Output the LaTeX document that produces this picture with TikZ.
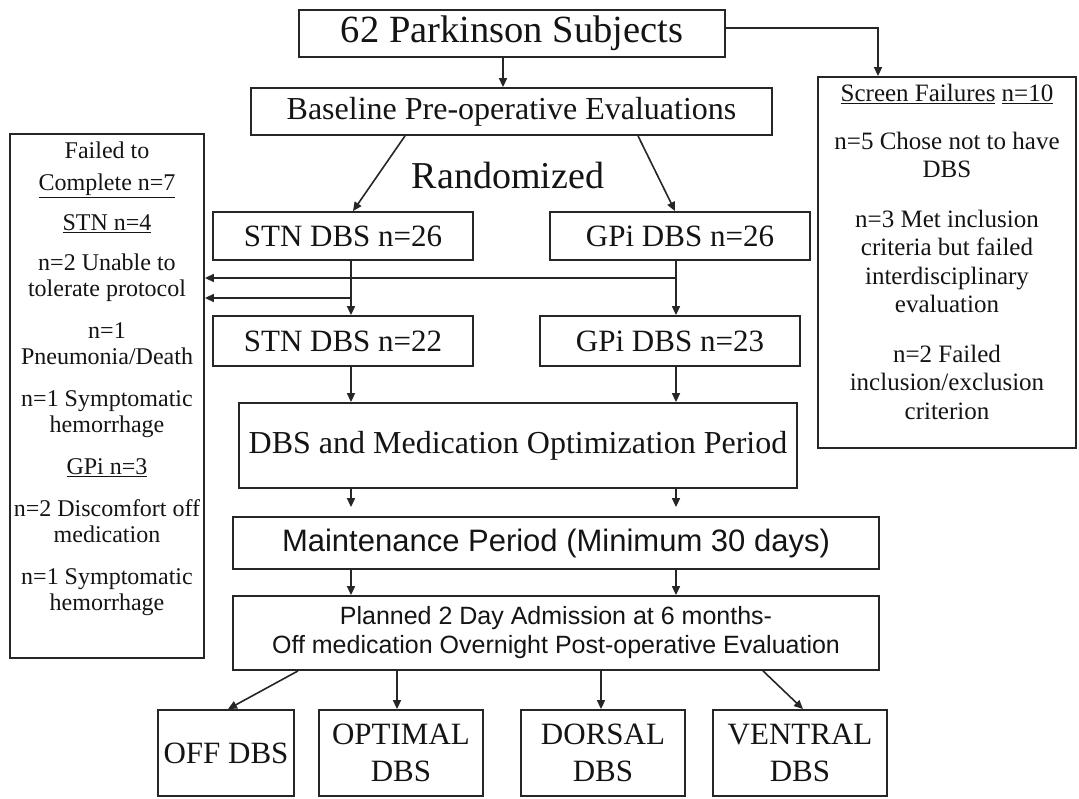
\documentclass[tikz,border=0pt]{standalone}
\usepackage{fontspec}
\setmainfont{Liberation Serif}
\newfontfamily\arialf{Liberation Sans}
\usetikzlibrary{arrows.meta,calc}
\newcommand\fsz[2]{\fontsize{#1}{#2}\selectfont}
\begin{document}
\begin{tikzpicture}[x=1pt,y=-1pt,
  box/.style={draw=black!85, line width=1.8pt, inner sep=0pt, align=center, text=black!92},
  arr/.style={draw=black!85, line width=1.6pt, -{Triangle[length=9pt,width=8pt]}},
  txt/.style={inner sep=0pt, align=center, text=black!92}]
\useasboundingbox (0,0) rectangle (1079,798);

% boxes
\node[box, minimum width=426pt, minimum height=47pt, font=\fsz{38.5}{44}] (top) at (512,33.5) {62 Parkinson Subjects};
\node[box, minimum width=521pt, minimum height=47pt, font=\fsz{32}{38}] (base) at (511.5,111.5) {Baseline Pre-operative Evaluations};
\node[txt, anchor=base, font=\fsz{38}{44}] (rand) at (508,188) {Randomized};

\node[box, minimum width=258pt, minimum height=371pt] (screen) at (947,262.5) {};
\node[txt, anchor=north, font=\fsz{25}{28.5}] (screentxt) at (947,84)
 {\underline{Screen Failures} \underline{n=10}\\[19pt]
  n=5 Chose not to have\\DBS\\[21pt]
  n=3 Met inclusion\\criteria but failed\\interdisciplinary\\evaluation\\[21pt]
  n=2 Failed\\inclusion/exclusion\\criterion};

\node[box, minimum width=194pt, minimum height=524pt] (fail) at (107,396) {};
\node[txt, anchor=north, font=\fsz{24}{26}] (failtxt) at (107,142)
 {Failed to\\[6pt]\underline{Complete n=7}\\[14pt]
  \underline{STN n=4}\\[14pt]
  n=2 Unable to\\tolerate protocol\\[16pt]
  n=1\\Pneumonia/Death\\[16pt]
  n=1 Symptomatic\\hemorrhage\\[16pt]
  \underline{GPi n=3}\\[16pt]
  n=2 Discomfort off\\medication\\[16pt]
  n=1 Symptomatic\\hemorrhage};

\node[box, minimum width=260pt, minimum height=48pt, font=\fsz{31}{36}] (stn1) at (343,236) {STN DBS n=26};
\node[box, minimum width=260pt, minimum height=48pt, font=\fsz{31}{36}] (gpi1) at (680,236) {GPi DBS n=26};
\node[box, minimum width=260pt, minimum height=50pt, font=\fsz{31}{36}] (stn2) at (343,341) {STN DBS n=22};
\node[box, minimum width=260pt, minimum height=50pt, font=\fsz{31}{36}] (gpi2) at (670,341) {GPi DBS n=23};
\node[box, minimum width=558pt, minimum height=85pt, font=\fsz{32}{38}] (dbs) at (518,445.5) {DBS and Medication Optimization Period};
\node[box, minimum width=646pt, minimum height=52pt, font=\arialf\fsz{31}{36}] (maint) at (556,543) {Maintenance Period (Minimum 30 days)};
\node[box, minimum width=646pt, minimum height=74pt, font=\arialf\fsz{25}{29}] (plan) at (556,633) {Planned 2 Day Admission at 6 months-\\Off medication Overnight Post-operative Evaluation};

\node[box, minimum width=136pt, minimum height=86pt, font=\fsz{31}{37}] (off) at (226,753) {OFF DBS};
\node[box, minimum width=164pt, minimum height=86pt, font=\fsz{31}{37}] (opt) at (401,753) {OPTIMAL\\DBS};
\node[box, minimum width=164pt, minimum height=86pt, font=\fsz{31}{37}] (dor) at (603,753) {DORSAL\\DBS};
\node[box, minimum width=174pt, minimum height=86pt, font=\fsz{31}{37}] (ven) at (800,753) {VENTRAL\\DBS};

% helper coordinates
\coordinate (xa) at (503,0);
\coordinate (xr) at (878,0);
\coordinate (yt) at (0,28);
\coordinate (xd1) at (405,0);
\coordinate (xd2) at (353,0);
\coordinate (xd3) at (638,0);
\coordinate (xd4) at (675,0);
\coordinate (xs) at (351,0);
\coordinate (xg) at (676,0);
\coordinate (yU) at (0,278);
\coordinate (yL) at (0,298);
\coordinate (xb1) at (298,0);
\coordinate (xb2) at (228,0);
\coordinate (xb3) at (397,0);
\coordinate (xb4) at (601,0);
\coordinate (xb5) at (763,0);
\coordinate (xb6) at (803,0);

% connectors
\draw[arr] (top.south -| xa) -- (base.north -| xa);
\draw[arr] (top.east |- yt) -| (screen.north -| xr);
\draw[arr] (base.south -| xd1) -- (stn1.north -| xd2);
\draw[arr] (base.south -| xd3) -- (gpi1.north -| xd4);
\draw[arr] (stn1.south -| xs) -- (stn2.north -| xs);
\draw[arr] (gpi1.south -| xg) -- (gpi2.north -| xg);
\draw[arr] (xg |- yU) -- (fail.east |- yU);
\draw[arr] (xs |- yL) -- (fail.east |- yL);
\draw[arr] (stn2.south -| xs) -- (dbs.north -| xs);
\draw[arr] (gpi2.south -| xg) -- (dbs.north -| xg);
\draw[arr] (dbs.south -| xs) -- ($(maint.north -| xs)+(0,-9)$);
\draw[arr] (dbs.south -| xg) -- ($(maint.north -| xg)+(0,-9)$);
\draw[arr] (maint.south -| xs) -- (plan.north -| xs);
\draw[arr] (maint.south -| xg) -- (plan.north -| xg);
\draw[arr] (plan.south -| xb1) -- (off.north -| xb2);
\draw[arr] (plan.south -| xb3) -- (opt.north -| xb3);
\draw[arr] (plan.south -| xb4) -- (dor.north -| xb4);
\draw[arr] (plan.south -| xb5) -- (ven.north -| xb6);
\end{tikzpicture}
\end{document}
